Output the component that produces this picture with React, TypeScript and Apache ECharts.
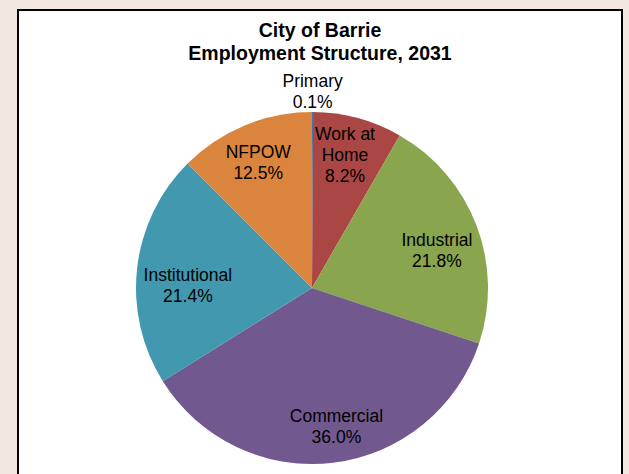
import React, { useEffect, useRef } from "react";
import * as echarts from "echarts";

const titleLines = ["City of Barrie", "Employment Structure, 2031"];
const categories = ["Primary", "Work at Home", "Industrial", "Commercial", "Institutional", "NFPOW"];
const shares = [0.1, 8.2, 21.8, 36.0, 21.4, 12.5];
const colors = ["#4572A7", "#AA4643", "#89A54E", "#71588F", "#4198AF", "#DB843D"];

const FONT = "'Liberation Sans', Arial, sans-serif";

// small nudges of label placement (Excel-like positioning)
const labelNudges: Record<number, { dx: number; dy: number }> = {
  1: { dx: -3, dy: 0 },
  2: { dx: -4, dy: 12 },
  3: { dx: 8, dy: 1 },
  4: { dx: 13, dy: 13 },
  5: { dx: -1, dy: 2 },
};

export default function App() {
  const ref = useRef<HTMLDivElement>(null);
  useEffect(() => {
    if (!ref.current) return;
    const chart = echarts.init(ref.current, undefined, { renderer: "svg" });
    const data = categories.map((name, i) => ({
      name,
      value: shares[i],
      itemStyle: { color: colors[i] },
    }));
    const wrap = (n: string) => (n === "Work at Home" ? "Work at\nHome" : n);
    chart.setOption({
      animation: false,
      backgroundColor: "#f1e9df",
      graphic: [
        {
          type: "rect",
          z: 0,
          shape: { x: 18, y: 10, width: 604, height: 480 },
          style: { fill: "#ffffff", stroke: "#000000", lineWidth: 2 },
        },
      ],
      title: {
        text: titleLines.join("\n"),
        left: 320,
        top: 18,
        padding: 0,
        textAlign: "center",
        textStyle: {
          fontFamily: FONT,
          fontSize: 19.5,
          fontWeight: "bold",
          lineHeight: 23,
          color: "#000",
        },
      },
      series: [
        {
          type: "pie",
          center: [312, 288],
          radius: [0, 176],
          startAngle: 90,
          clockwise: true,
          silent: true,
          label: { show: false },
          labelLine: { show: false },
          itemStyle: { borderWidth: 0 },
          data,
        },
        {
          type: "pie",
          center: [312, 288],
          radius: [94, 176],
          startAngle: 90,
          clockwise: true,
          silent: true,
          avoidLabelOverlap: false,
          itemStyle: { color: "rgba(0,0,0,0)", borderWidth: 0 },
          label: {
            show: true,
            position: "inside",
            fontFamily: FONT,
            fontSize: 17.5,
            lineHeight: 21,
            color: "#000",
            formatter: (p: any) => wrap(p.name) + "\n" + Number(p.value).toFixed(1) + "%",
          },
          labelLine: { show: false, length: 21, length2: 0 },
          labelLayout: (p: any) =>
            p.dataIndex === 0 ? { align: "center" } : labelNudges[p.dataIndex] || {},
          data: categories.map((name, i) => ({
            name,
            value: shares[i],
            itemStyle: { color: "rgba(0,0,0,0)" },
            label:
              i === 0
                ? { position: "outside", distanceToLabelLine: 0 }
                : undefined,
          })),
        },
      ],
    });
    return () => chart.dispose();
  }, []);
  return (
    <div
      ref={ref}
      style={{ position: "fixed", left: 0, top: 0, width: 629, height: 474 }}
    />
  );
}
